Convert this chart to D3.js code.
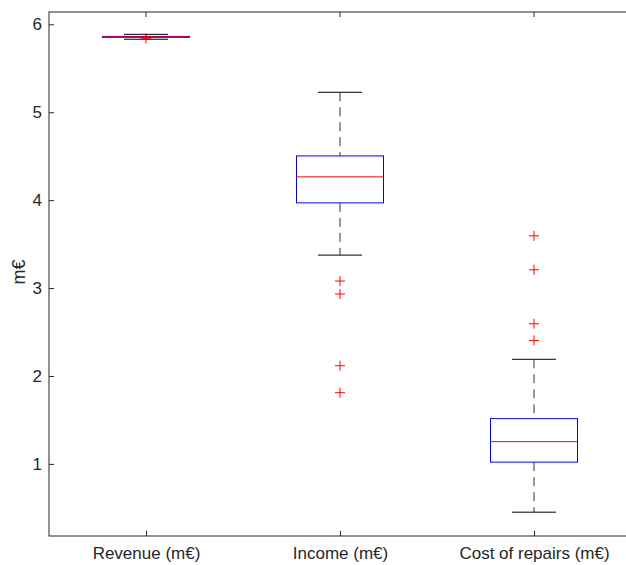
<!DOCTYPE html>
<html lang="en">
<head>
    <meta charset="UTF-8">
    <title>Box plot</title>
    <script src="https://d3js.org/d3.v7.min.js"></script>
    <style>
        body { margin: 0; background: #fff; }
        svg { display: block; font-family: "Liberation Sans", Arial, sans-serif; }
    </style>
</head>
<body>
    <svg id="chart" width="626" height="565"></svg>
    <script>
        // box statistics
        const categories = ["Revenue (m€)", "Income (m€)", "Cost of repairs (m€)"];
        const whiskerHigh = [5.886, 5.227, 2.19];
        const q3 = [5.862, 4.503, 1.515];
        const median = [5.857, 4.265, 1.253];
        const q1 = [5.852, 3.969, 1.02];
        const whiskerLow = [5.83, 3.375, 0.451];
        const outliers = [
            [5.84],
            [3.08, 2.932, 2.117, 1.81],
            [3.594, 3.208, 2.594, 2.405]
        ];
        const yTicks = [1, 2, 3, 4, 5, 6];

        const svg = d3.select("#chart");
        const mLeft = 49, mRight = 631, mTop = 12, mBottom = 536;
        const axisColor = "#262626";

        const x = d3.scalePoint().domain(categories).range([mLeft, mRight]).padding(0.5);
        const y = d3.scaleLinear().domain([0.18, 6.14]).range([mBottom, mTop]);

        const boxW = 87, capW = 44;

        const g = svg.append("g");

        categories.forEach((c, i) => {
            const cx = x(c);
            // dashed whiskers
            g.append("line")
                .attr("x1", cx).attr("x2", cx)
                .attr("y1", y(whiskerHigh[i])).attr("y2", y(q3[i]))
                .attr("stroke", "#333").attr("stroke-width", 1)
                .attr("stroke-dasharray", "9,6");
            g.append("line")
                .attr("x1", cx).attr("x2", cx)
                .attr("y1", y(q1[i])).attr("y2", y(whiskerLow[i]))
                .attr("stroke", "#333").attr("stroke-width", 1)
                .attr("stroke-dasharray", "9,6");
            // caps
            [whiskerHigh[i], whiskerLow[i]].forEach(v => {
                g.append("line")
                    .attr("x1", cx - capW / 2).attr("x2", cx + capW / 2)
                    .attr("y1", y(v)).attr("y2", y(v))
                    .attr("stroke", "#000").attr("stroke-width", 1);
            });
            // box
            g.append("rect")
                .attr("x", cx - boxW / 2)
                .attr("y", y(q3[i]))
                .attr("width", boxW)
                .attr("height", Math.max(0.5, y(q1[i]) - y(q3[i])))
                .attr("fill", "none")
                .attr("stroke", "#0000ff").attr("stroke-width", 1);
            // median
            g.append("line")
                .attr("x1", cx - boxW / 2).attr("x2", cx + boxW / 2)
                .attr("y1", y(median[i])).attr("y2", y(median[i]))
                .attr("stroke", "#ff0000").attr("stroke-width", 1);
            // outliers
            outliers[i].forEach(v => {
                const py = y(v);
                g.append("path")
                    .attr("d", `M${cx - 5},${py}H${cx + 5}M${cx},${py - 5}V${py + 5}`)
                    .attr("stroke", "#ff0000").attr("stroke-width", 1)
                    .attr("fill", "none");
            });
        });

        // frame
        const frame = svg.append("g").attr("stroke", axisColor).attr("stroke-width", 1).attr("fill", "none");
        frame.append("rect")
            .attr("x", mLeft).attr("y", mTop)
            .attr("width", mRight - mLeft).attr("height", mBottom - mTop);

        // y axis (ticks inside)
        const yAxis = svg.append("g")
            .attr("transform", `translate(${mLeft},0)`)
            .call(d3.axisLeft(y).tickValues(yTicks).tickFormat(d3.format("d"))
                .tickSizeInner(-5).tickSizeOuter(0).tickPadding(7));
        yAxis.select(".domain").remove();
        yAxis.attr("font-family", null).attr("font-size", null);
        yAxis.selectAll("line").attr("stroke", axisColor);
        yAxis.selectAll("text").attr("font-size", 17).attr("fill", axisColor);

        // mirrored ticks on the right
        svg.append("g")
            .selectAll("line").data(yTicks).join("line")
            .attr("x1", mRight).attr("x2", mRight - 5)
            .attr("y1", d => y(d)).attr("y2", d => y(d))
            .attr("stroke", axisColor);

        // x axis
        const xAxis = svg.append("g")
            .attr("transform", `translate(0,${mBottom})`)
            .call(d3.axisBottom(x).tickSizeInner(-5).tickSizeOuter(0).tickPadding(11));
        xAxis.select(".domain").remove();
        xAxis.attr("font-family", null).attr("font-size", null);
        xAxis.selectAll("line").attr("stroke", axisColor);
        xAxis.selectAll("text").attr("font-size", 17).attr("fill", axisColor);

        svg.append("g")
            .selectAll("line").data(categories).join("line")
            .attr("x1", d => x(d)).attr("x2", d => x(d))
            .attr("y1", mTop).attr("y2", mTop + 5)
            .attr("stroke", axisColor);

        // y label
        svg.append("text")
            .attr("transform", "translate(25,272) rotate(-90)")
            .attr("text-anchor", "middle")
            .attr("font-size", 18)
            .attr("fill", axisColor)
            .text("m€");
    </script>
</body>
</html>
